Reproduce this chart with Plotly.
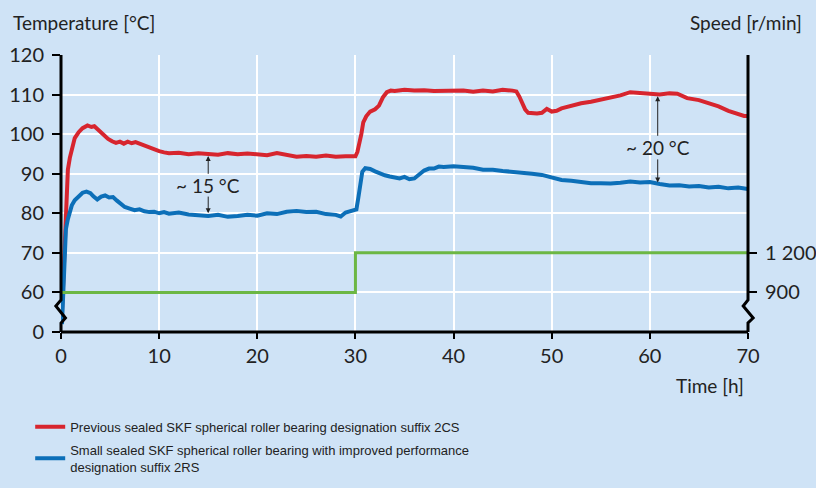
import plotly.graph_objects as go

# ---------------- data ----------------
red_t = [0.1, 0.2, 0.3, 0.4, 0.5, 0.6, 0.7, 0.9, 1.1, 1.4, 1.8, 2.2, 2.7, 3.1, 3.4, 3.7, 4.0, 4.4,
         4.8, 5.2, 5.6, 6.0, 6.4, 6.8, 7.2, 7.6, 8.0, 8.5, 9.0, 9.5, 10.0, 10.5, 11, 12, 13, 14, 15,
         16, 17, 18, 19, 20, 21, 22, 23, 24, 25, 26, 27, 28, 29, 30.0, 30.2, 30.4, 30.6, 30.8, 31.1,
         31.5, 32.0, 32.4, 32.8, 33.2, 33.6, 34, 35, 36, 37, 38, 39, 40, 41, 42, 43, 44, 45, 46,
         46.4, 46.7, 47.0, 47.3, 47.6, 48, 48.5, 49, 49.5, 50, 50.5, 51, 52, 53, 54, 55, 56, 57,
         58, 59, 60, 61, 62, 62.8, 63.8, 65, 66, 67, 68, 69, 69.6, 70]
red_temp = [55, 62, 70, 76, 82, 86, 91, 94, 96.5, 99, 100.5, 101.5, 102.2, 101.8, 102, 101.3, 100.4,
            99.5, 98.8, 98.2, 97.8, 98.1, 97.6, 98.1, 97.7, 98.0, 97.6, 97.3, 96.8, 96.2, 95.7, 95.4,
            95.2, 95.3, 94.9, 95.2, 95.1, 94.8, 95.2, 94.9, 95.1, 95.0, 94.7, 95.2, 94.8, 94.3, 94.5,
            94.3, 94.6, 94.3, 94.4, 94.4, 95.5, 97.5, 100, 103, 104.5, 105.7, 106.3, 107.2, 109.3,
            110.6, 111.0, 110.9, 111.2, 111.0, 111.1, 110.9, 111, 110.9, 111, 110.7, 111, 110.8,
            111.2, 111.0, 110.8, 109.5, 107.8, 106.2, 105.4, 105.2, 105.2, 105.4, 106.4, 105.7,
            105.9, 106.5, 107.2, 107.8, 108.2, 108.7, 109.1, 109.8, 110.6, 110.3, 110.2, 110.0,
            110.3, 110.2, 109.1, 108.6, 107.8, 107.0, 105.9, 105.0, 104.6, 104.6]

blue_t = [0.1, 0.2, 0.3, 0.4, 0.5, 0.7, 0.9, 1.1, 1.4, 1.8, 2.2, 2.6, 3.0, 3.3, 3.7, 4.1, 4.5, 4.9,
          5.3, 5.7, 6.1, 6.5, 7.0, 7.5, 8.0, 8.5, 9, 9.5, 10, 10.5, 11, 12, 13, 14, 15, 16, 17, 18,
          19, 20, 21, 22, 23, 24, 25, 26, 27, 28, 28.5, 29, 29.6, 30.1, 30.3, 30.5, 30.7, 31.0,
          31.5, 32, 32.5, 33, 33.5, 34, 34.5, 35, 35.5, 36, 36.5, 37, 37.5, 38, 38.5, 39, 40, 41,
          42, 43, 44, 45, 46, 47, 48, 49, 50, 51, 52, 53, 54, 55, 56, 57, 58, 59, 60, 61, 62, 63,
          64, 65, 66, 67, 68, 69, 70]
blue_temp = [52, 58, 66, 72, 76, 78.5, 80.5, 82, 83.3, 84.2, 85.2, 85.5, 85.1, 84.3, 83.5, 84.2,
             84.5, 84.0, 84.1, 83.2, 82.3, 81.6, 81.2, 80.8, 81.0, 80.5, 80.3, 80.4, 80.0, 80.3,
             79.9, 80.2, 79.7, 79.5, 79.3, 79.6, 79.1, 79.3, 79.6, 79.4, 80.0, 79.8, 80.4, 80.6,
             80.3, 80.4, 79.8, 79.6, 79.2, 80.2, 80.6, 81.0, 84, 88, 90.5, 91.4, 91.2, 90.6, 90.0,
             89.6, 89.3, 89.0, 88.8, 89.2, 88.6, 88.8, 89.8, 90.8, 91.3, 91.3, 91.8, 91.7, 91.9,
             91.8, 91.5, 91.0, 91.0, 90.7, 90.5, 90.4, 90.0, 89.7, 89.0, 88.4, 88.2, 87.8, 87.6,
             87.6, 87.5, 87.7, 88.0, 87.8, 87.9, 87.4, 87.0, 87.1, 86.8, 86.9, 86.5, 86.7, 86.3,
             86.5, 86.1]

speed_t = [0, 30, 70]
speed_rpm = [900, 1200, 1200]

x_ticks = [0, 10, 20, 30, 40, 50, 60, 70]
y_ticks = [50, 60, 70, 80, 90, 100, 110, 120]
y_ticktext = ["0", "60", "70", "80", "90", "100", "110", "120"]
speed_ticks = [900, 1200]
speed_ticktext = ["900", "1 200"]

red_name = "Previous sealed SKF spherical roller bearing designation suffix 2CS"
blue_name = "Small sealed SKF spherical roller bearing with improved performance<br>designation suffix 2RS"

# ---------------- style ----------------
BG = "#cfe3f6"
RED = "#d7252e"
BLUE = "#0c6fb8"
GREEN = "#6cb744"
FONT = "Lato, 'Liberation Sans', sans-serif"
LEGEND_FONT = "'Liberation Sans Narrow', 'Liberation Sans', sans-serif"

fig = go.Figure()
fig.add_trace(go.Scatter(x=speed_t, y=speed_rpm, yaxis="y2", mode="lines", line_shape="hv",
                         line=dict(color=GREEN, width=3), showlegend=False, hoverinfo="skip"))
fig.add_trace(go.Scatter(x=red_t, y=red_temp, mode="lines", name=red_name, legendgroup="a",
                         line=dict(color=RED, width=4)))
fig.add_trace(go.Scatter(x=blue_t, y=blue_temp, mode="lines", name=blue_name, legendgroup="b",
                         line=dict(color=BLUE, width=4)))

axis_font = dict(family=FONT, size=20, color="#222222")
fig.update_layout(
    width=816, height=488,
    margin=dict(l=61, r=68, t=55, b=156, autoexpand=False),
    paper_bgcolor=BG, plot_bgcolor=BG,
    font=dict(family=FONT, color="#222222"),
    xaxis=dict(range=[0, 70], tickvals=x_ticks, showgrid=True, gridcolor="white", gridwidth=1.5,
               zeroline=False, showline=False, ticks="outside", ticklen=6, tickwidth=2,
               tickcolor="black", tickfont=axis_font),
    yaxis=dict(range=[50, 120], tickvals=y_ticks, ticktext=y_ticktext, showgrid=True,
               gridcolor="white", gridwidth=1.5, zeroline=False, showline=False,
               ticks="outside", ticklen=8, tickwidth=2, tickcolor="black", tickfont=axis_font,
               ticklabelstandoff=4),
    yaxis2=dict(overlaying="y", side="right", range=[600, 2700], tickvals=speed_ticks,
                ticktext=speed_ticktext, showgrid=False, zeroline=False, showline=False,
                ticks="outside", ticklen=8, tickwidth=2, tickcolor="black", tickfont=axis_font,
                ticklabelstandoff=4),
    legend=dict(xref="container", yref="container", x=0.037, y=0.156, xanchor="left",
                yanchor="top", bgcolor="rgba(0,0,0,0)", tracegroupgap=3,
                font=dict(family=LEGEND_FONT, size=13, color="#222222")),
)

# axes with broken-scale zigzags
k = dict(color="black", width=3)
fig.add_shape(type="path", xref="x domain", yref="y domain", layer="above", line=k,
              path="M 0,1 L 0,0.1155 L -0.0075,0.094 L 0.0065,0.0505 L 0,0.0325 L 0,0")
fig.add_shape(type="path", xref="x domain", yref="y domain", layer="above", line=k,
              path="M 1,1 L 1,0.1155 L 0.993,0.094 L 1.0075,0.0505 L 1,0.0325 L 1,0")
fig.add_shape(type="line", xref="x domain", yref="y domain", layer="above", line=k,
              x0=0, x1=1, y0=0, y1=0)

# difference arrows
arrow = dict(showarrow=True, arrowhead=2, arrowsize=1, arrowwidth=1, arrowcolor="#222222",
             axref="x", ayref="y", text="")
fig.add_annotation(x=15, y=94.5, ax=15, ay=89.6, **arrow)
fig.add_annotation(x=15, y=80.0, ax=15, ay=84.6, **arrow)
fig.add_annotation(x=60.8, y=109.6, ax=60.8, ay=99.2, **arrow)
fig.add_annotation(x=60.8, y=87.8, ax=60.8, ay=94.0, **arrow)
fig.add_annotation(x=15, y=87.1, text="~ 15 °C", showarrow=False, font=dict(size=19),
                   xanchor="center")
fig.add_annotation(x=60.8, y=96.6, text="~ 20 °C", showarrow=False, font=dict(size=19),
                   xanchor="center")

# titles
fig.add_annotation(xref="paper", yref="paper", x=0, xshift=-50, y=1.0, yshift=33, xanchor="left",
                   yanchor="middle", text="Temperature [°C]", showarrow=False,
                   font=dict(size=19))
fig.add_annotation(xref="paper", yref="paper", x=1.0, xshift=56, y=1.0, yshift=33,
                   xanchor="right", yanchor="middle", text="Speed [r/min]", showarrow=False,
                   font=dict(size=19))
fig.add_annotation(xref="paper", yref="paper", x=1.0, xshift=-2, y=0, yshift=-53,
                   xanchor="right", yanchor="middle", text="Time [h]", showarrow=False,
                   font=dict(size=19))

fig.write_html("out.html", config={"displayModeBar": False},
               post_script="document.body.style.margin='0';")
